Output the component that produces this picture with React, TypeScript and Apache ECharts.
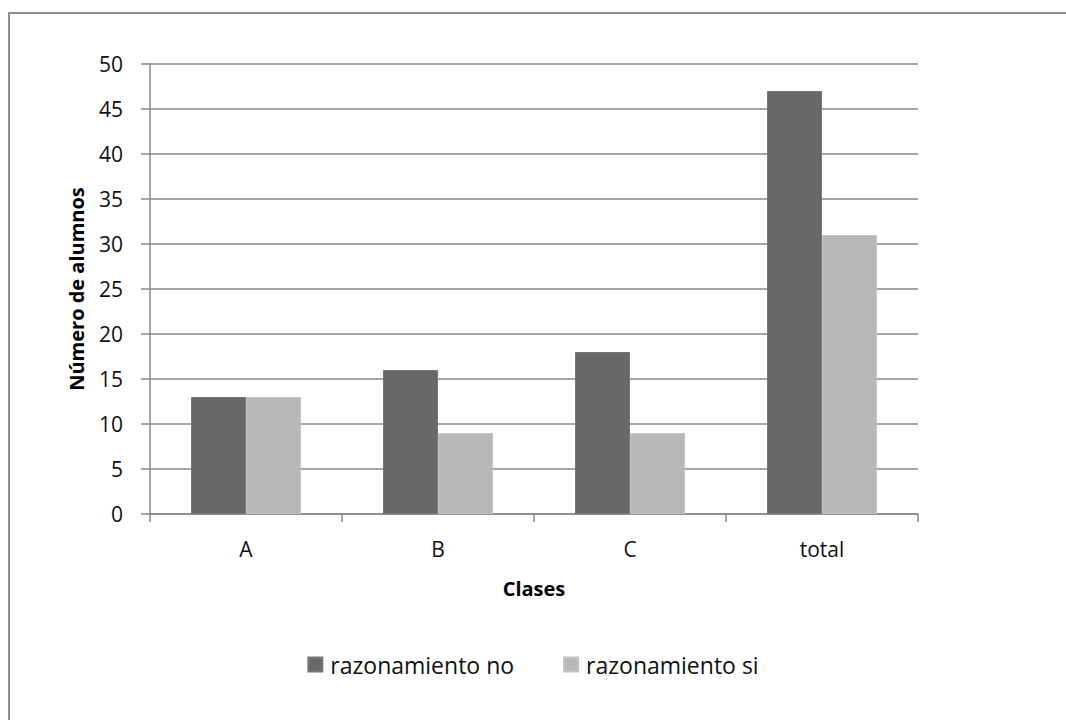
import React, { useEffect, useRef } from "react";
import * as echarts from "echarts";

const categories = ["A", "B", "C", "total"];
const seriesNames = ["razonamiento no", "razonamiento si"];
const razonamientoNo = [13, 16, 18, 47];
const razonamientoSi = [13, 9, 9, 31];
const yTitle = "Número de alumnos";
const xTitle = "Clases";

export default function App() {
  const ref = useRef<HTMLDivElement>(null);
  useEffect(() => {
    if (!ref.current) return;
    const chart = echarts.init(ref.current, null, { renderer: "svg" });
    const font = "'Open Sans', sans-serif";
    const gray = "#888888";
    chart.setOption({
      animation: false,
      backgroundColor: "#ffffff",
      textStyle: { fontFamily: font },
      graphic: [
        {
          type: "rect",
          shape: { x: 9, y: 13, width: 1200, height: 900 },
          style: { fill: "none", stroke: "#8f8f8f", lineWidth: 2 },
          silent: true,
          z: 0,
        },
      ],
      grid: { left: 150, right: 148, top: 64, bottom: 206, containLabel: false },
      legend: {
        top: 648,
        left: "center",
        itemWidth: 14,
        itemHeight: 14,
        itemGap: 49,
        icon: "rect",
        textStyle: { fontFamily: font, fontSize: 23, color: "#111", padding: [0, 0, 0, 3] },
        data: seriesNames,
      },
      xAxis: {
        type: "category",
        data: categories,
        name: xTitle,
        nameLocation: "middle",
        nameGap: 64,
        nameTextStyle: { fontFamily: font, fontSize: 20, fontWeight: "bold", color: "#000" },
        axisLine: { show: true, lineStyle: { color: gray, width: 1.5 } },
        axisTick: { show: true, length: 8, alignWithLabel: false, lineStyle: { color: gray, width: 1.5 } },
        axisLabel: { fontFamily: font, fontSize: 21, color: "#111", margin: 24 },
        splitLine: { show: false },
      },
      yAxis: {
        type: "value",
        min: 0,
        max: 50,
        interval: 5,
        name: yTitle,
        nameLocation: "middle",
        nameRotate: 90,
        nameGap: 64,
        nameTextStyle: { fontFamily: font, fontSize: 20, fontWeight: "bold", color: "#000" },
        axisLine: { show: true, lineStyle: { color: gray, width: 1.5 } },
        axisTick: { show: true, length: 9, lineStyle: { color: gray, width: 1.5 } },
        axisLabel: { fontFamily: font, fontSize: 21, color: "#111", margin: 27 },
        splitLine: { show: true, lineStyle: { color: gray, width: 1.5 } },
      },
      series: [
        {
          name: seriesNames[0],
          type: "bar",
          data: razonamientoNo,
          barWidth: 55,
          barGap: "0%",
          itemStyle: { color: "#686868", borderColor: "#777777", borderWidth: 1 },
        },
        {
          name: seriesNames[1],
          type: "bar",
          data: razonamientoSi,
          barWidth: 55,
          barGap: "0%",
          itemStyle: { color: "#b8b8b8", borderColor: "#c4c4c4", borderWidth: 1 },
        },
      ],
    });
    return () => chart.dispose();
  }, []);
  return (
    <div
      ref={ref}
      style={{ position: "absolute", left: 0, top: 0, width: 1066, height: 720 }}
    />
  );
}
